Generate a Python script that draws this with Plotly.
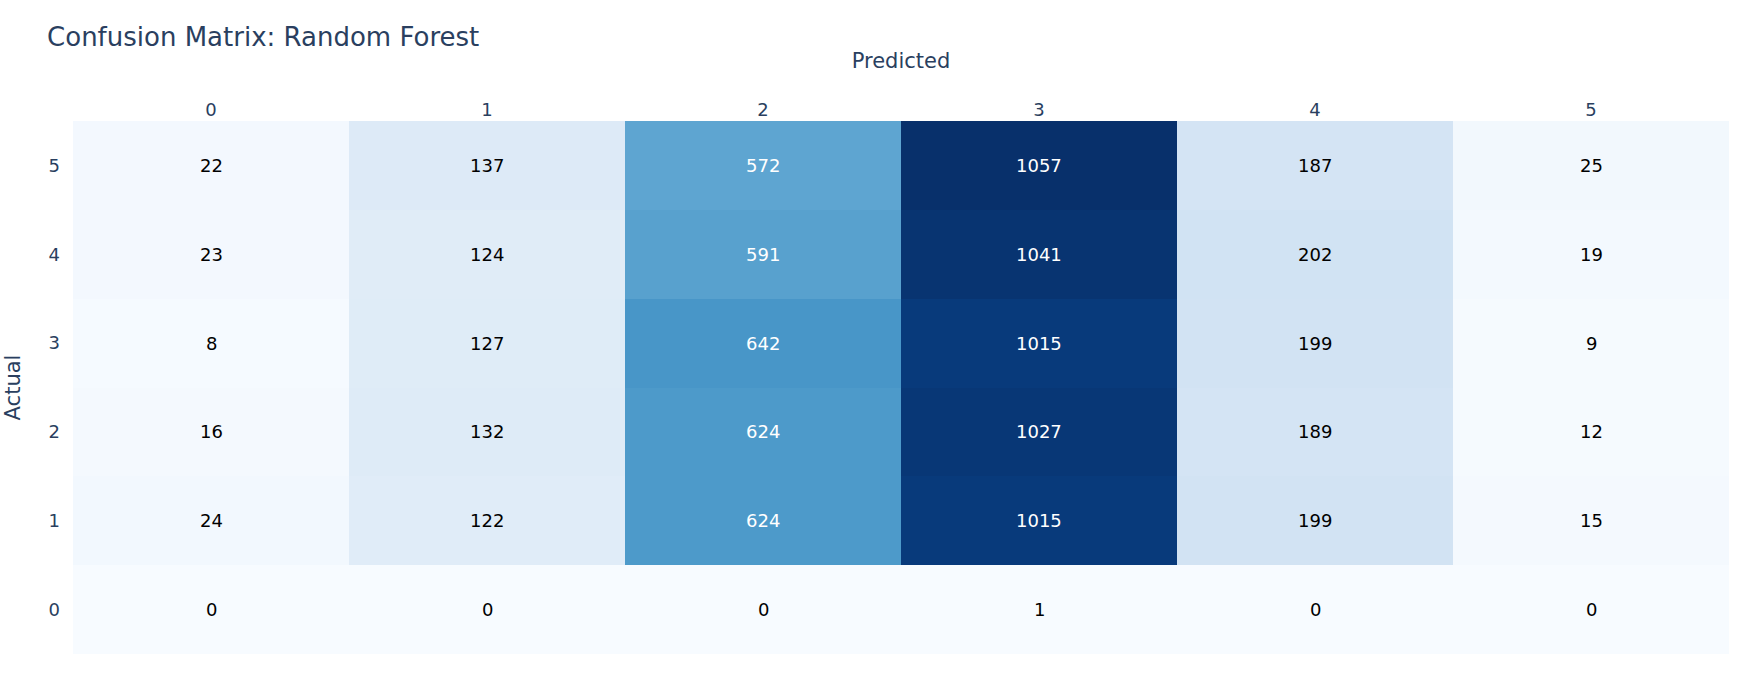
import plotly.graph_objects as go

predicted_labels = [0, 1, 2, 3, 4, 5]
actual_labels = [0, 1, 2, 3, 4, 5]
row_actual_0 = [0, 0, 0, 1, 0, 0]
row_actual_1 = [24, 122, 624, 1015, 199, 15]
row_actual_2 = [16, 132, 624, 1027, 189, 12]
row_actual_3 = [8, 127, 642, 1015, 199, 9]
row_actual_4 = [23, 124, 591, 1041, 202, 19]
row_actual_5 = [22, 137, 572, 1057, 187, 25]

matrix = [row_actual_0, row_actual_1, row_actual_2, row_actual_3, row_actual_4, row_actual_5]
zmax = max(max(r) for r in matrix)

fig = go.Figure(
    go.Heatmap(
        z=matrix,
        x=predicted_labels,
        y=actual_labels,
        colorscale="Blues",
        zmin=0,
        zmax=zmax,
        showscale=False,
    )
)

annotations = []
for yi, row in zip(actual_labels, matrix):
    for xi, v in zip(predicted_labels, row):
        annotations.append(dict(
            x=xi, y=yi, xref="x", yref="y", text=str(v), showarrow=False,
            font=dict(size=18, color="white" if v > 0.45 * zmax else "black"),
        ))

fig.update_layout(
    template="plotly_white",
    font=dict(family="Verdana, DejaVu Sans, sans-serif", size=18, color="#2a3f5f"),
    title=dict(text="Confusion Matrix: Random Forest", x=0.027, xanchor="left",
               y=0.9454, yanchor="middle", font=dict(size=26)),
    margin=dict(l=73, r=15, t=121, b=24),
    plot_bgcolor="white",
    paper_bgcolor="white",
    annotations=annotations,
)
fig.update_xaxes(side="top", title_text="Predicted", dtick=1, showgrid=False,
                 zeroline=False, title_font=dict(size=21), title_standoff=25,
                 automargin=False)
fig.update_yaxes(title_text="Actual", dtick=1, showgrid=False, zeroline=False,
                 title_font=dict(size=21), ticklabelstandoff=12, title_standoff=22,
                 automargin=False)

post = (
    "document.documentElement.style.margin='0';"
    "document.body.style.margin='0';"
    "var gd=document.getElementById('{plot_id}');"
    "gd.style.width='100vw';gd.style.height='100vh';"
    "Plotly.Plots.resize(gd);"
)

fig.write_html("out.html", post_script=post, config={"displayModeBar": False})
